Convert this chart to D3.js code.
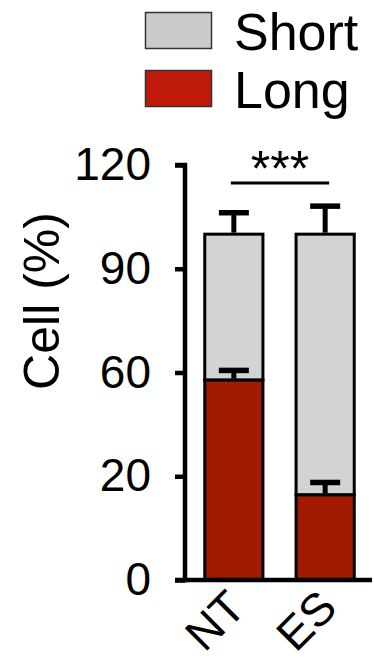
<!DOCTYPE html>
<html>
<head>
<meta charset="utf-8">
<script src="https://cdn.jsdelivr.net/npm/d3@7"></script>
<style>
  html, body { margin: 0; padding: 0; background: #fff; }
  svg { display: block; font-family: "Liberation Sans", Arial, sans-serif; }
</style>
</head>
<body>
<svg id="chart" width="374" height="664"></svg>
<script>
// ---- data ----
const categories = ["NT", "ES"];
const longValues = [57.8, 24.6];
const longErrors = [2.8, 3.6];
const shortValues = [42.2, 75.4];
const totalErrors = [6.2, 8.1];
const tickValues = [0, 30, 60, 90, 120];
const tickLabels = ["0", "20", "60", "90", "120"];
const seriesNames = ["Short", "Long"];
const significance = "***";

// ---- styles ----
const redBar = "#a11a02";
const grayBar = "#d3d3d3";
const redLegend = "#c01a0b";
const grayLegend = "#cbcbcb";

const svg = d3.select("#chart");

const y = d3.scaleLinear().domain([0, 120]).range([580, 165]);
const x = d3.scaleBand().domain(categories).range([185, 374])
  .paddingInner(0.33).paddingOuter(0.2);

const g = svg.append("g");
categories.forEach((c, i) => {
  const x0 = x(c), w = x.bandwidth();
  const cx = x0 + w / 2;
  const lTop = longValues[i];
  const tTop = longValues[i] + shortValues[i];
  g.append("rect").attr("x", x0 + 1.5).attr("width", w - 3)
    .attr("y", y(tTop)).attr("height", y(lTop) - y(tTop))
    .attr("fill", grayBar).attr("stroke", "#000").attr("stroke-width", 3);
  g.append("rect").attr("x", x0 + 1.5).attr("width", w - 3)
    .attr("y", y(lTop)).attr("height", y(0) - y(lTop))
    .attr("fill", redBar).attr("stroke", "#000").attr("stroke-width", 3);
  [[lTop, longErrors[i]], [tTop, totalErrors[i]]].forEach(([v, e]) => {
    g.append("line").attr("x1", cx).attr("x2", cx)
      .attr("y1", y(v) - 1.5).attr("y2", y(v + e))
      .attr("stroke", "#000").attr("stroke-width", 5);
    g.append("line").attr("x1", cx - 15).attr("x2", cx + 15)
      .attr("y1", y(v + e)).attr("y2", y(v + e))
      .attr("stroke", "#000").attr("stroke-width", 5.5);
  });
});

// y axis
const yAxis = d3.axisLeft(y).tickValues(tickValues)
  .tickFormat((d, i) => tickLabels[i]).tickSize(10).tickPadding(24);
const ya = svg.append("g").attr("transform", "translate(185,0)").call(yAxis);
ya.select(".domain").attr("stroke", "#000").attr("stroke-width", 4.5)
  .attr("d", `M-10,${y(120)}H0V${y(0)}H-10`);
ya.selectAll(".tick line").attr("stroke", "#000").attr("stroke-width", 4.5);
ya.selectAll(".tick text").attr("font-size", 46).attr("fill", "#000")
  .attr("font-family", "'Liberation Sans', Arial, sans-serif");

// x axis
const xAxis = d3.axisBottom(x).tickSize(0).tickPadding(0);
const xa = svg.append("g").attr("transform", `translate(0,${y(0)})`).call(xAxis);
xa.select(".domain").attr("stroke", "#000").attr("stroke-width", 4.5)
  .attr("d", `M183,0H372`);
xa.selectAll(".tick text")
  .attr("font-size", 46).attr("fill", "#000")
  .attr("font-family", "'Liberation Sans', Arial, sans-serif")
  .attr("text-anchor", "end")
  .attr("dy", null).attr("y", 0)
  .attr("transform", "translate(14,30) rotate(-45)");

// y title
svg.append("text").attr("transform", `translate(59,301) rotate(-90)`)
  .attr("text-anchor", "middle").attr("font-size", 50).text("Cell (%)");

// significance
const x1 = x("NT") + x.bandwidth() / 2 - 3, x2 = x("ES") + x.bandwidth() / 2 + 4;
svg.append("line").attr("x1", x1).attr("x2", x2)
  .attr("y1", y(114.8)).attr("y2", y(114.8))
  .attr("stroke", "#000").attr("stroke-width", 3);
svg.append("text").attr("x", (x1 + x2) / 2).attr("y", 186)
  .attr("text-anchor", "middle").attr("font-size", 50).text(significance);

// legend
const legendColors = [grayLegend, redLegend];
seriesNames.forEach((s, i) => {
  const ly = 12 + i * 58;
  svg.append("rect").attr("x", 145.5).attr("y", ly + 0.5).attr("width", 66).attr("height", 36)
    .attr("fill", legendColors[i]).attr("stroke", "#333").attr("stroke-width", 1.5);
  svg.append("text").attr("x", 234).attr("y", ly + 38).attr("font-size", 52).text(s);
});
</script>
</body>
</html>
